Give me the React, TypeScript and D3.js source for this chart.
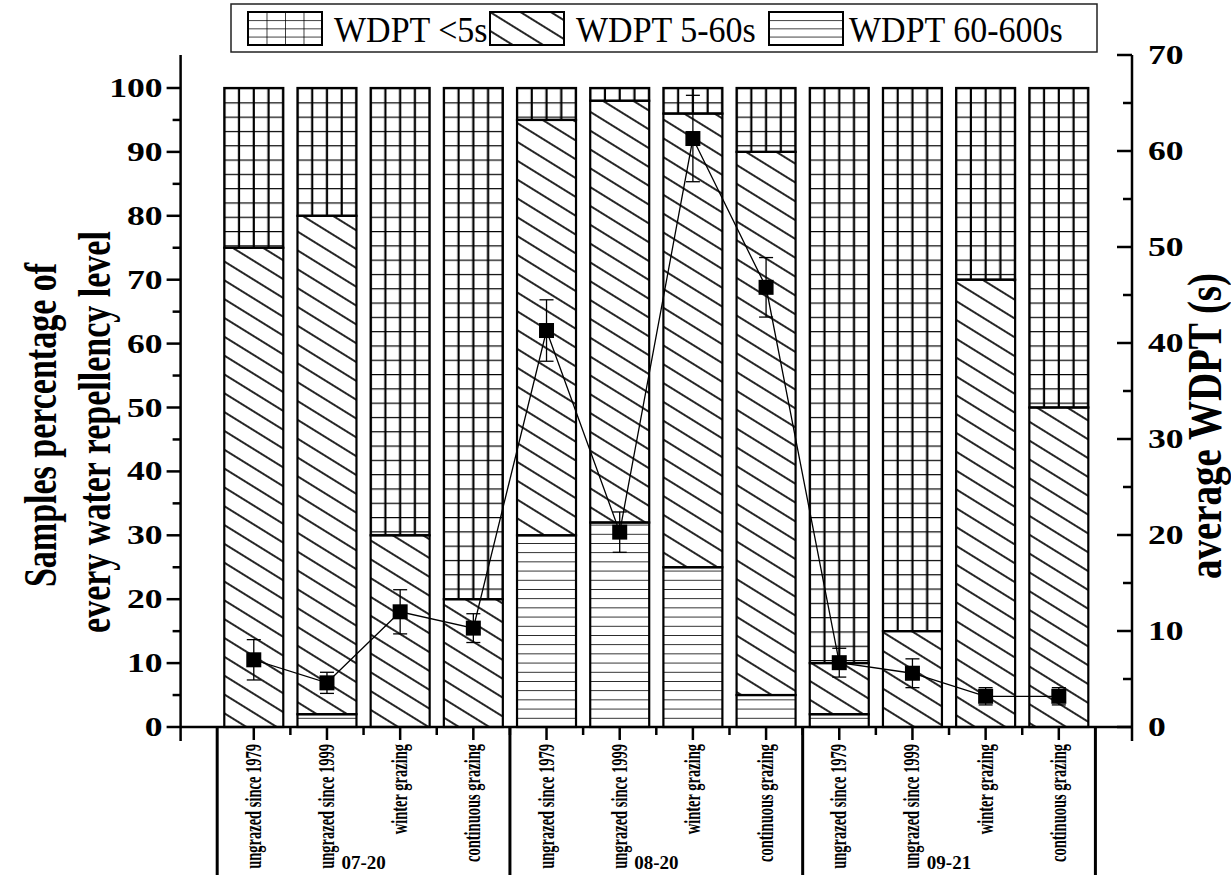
import React from 'react';
import * as d3 from 'd3';

// values
const groups = ['07-20', '08-20', '09-21'];
const treatments = ['ungrazed since 1979', 'ungrazed since 1999', 'winter grazing', 'continuous grazing'];
const categories = groups.flatMap(() => treatments);

// stacked percentages, bottom to top
const pct60to600 = [0, 2, 0, 0, 30, 32, 25, 5, 2, 0, 0, 0];
const pct5to60 = [75, 78, 30, 20, 65, 66, 71, 85, 8, 15, 70, 50];
const pctBelow5 = [25, 20, 70, 80, 5, 2, 4, 10, 90, 85, 30, 50];

// average WDPT (s) with error bars, right axis
const meanWdpt = [7.0, 4.6, 12.0, 10.3, 41.3, 20.3, 61.3, 45.8, 6.7, 5.6, 3.2, 3.2];
const errWdpt = [2.1, 1.1, 2.3, 1.5, 3.2, 2.1, 4.5, 3.1, 1.5, 1.5, 0.9, 0.9];

const leftTicks = d3.range(0, 101, 10);
const rightTicks = d3.range(0, 71, 10);
const legendLabels = ['WDPT <5s', 'WDPT 5-60s', 'WDPT 60-600s'];

const W = 1231;
const H = 875;
const FONT = '"Liberation Serif", "DejaVu Serif", serif';
const SX = 1.36; // the figure is stretched sideways

const x = d3.scaleLinear().domain([-1, 12]).range([180.6, 1132]);
const step = x(1) - x(0);
const barW = 59;
const yL = d3.scaleLinear().domain([0, 100]).range([727, 88]);
const yR = d3.scaleLinear().domain([0, 70]).range([727, 55]);
const x0 = x(-1), x1 = x(12), y0 = yL(0);

export default function App() {
  const stacks = categories.map((c, i) => {
    const a = pct60to600[i], b = pct5to60[i], t = pctBelow5[i];
    return [
      { key: 'h', lo: 0, hi: a },
      { key: 'd', lo: a, hi: a + b },
      { key: 'g', lo: a + b, hi: a + b + t },
    ].filter(s => s.hi > s.lo);
  });

  const line = d3.line<number>()
    .x((_, i) => x(i))
    .y(v => yR(v));

  const legendItems = [
    { key: 'g', sx: 248, tx: 334 },
    { key: 'd', sx: 490, tx: 576 },
    { key: 'h', sx: 769, tx: 849 },
  ];

  return (
    <svg width={W} height={H} style={{ position: 'absolute', left: 0, top: 0, background: '#fff' }}>
      <defs>
        <pattern id="pat-g" patternUnits="userSpaceOnUse" x={x(0) - barW / 2} y={yL(100)}
          width={step} height={14.3}>
          <line x1={0} x2={step} y1={0} y2={0} stroke="#000" strokeWidth={2.2} />
          {d3.range(0, 5).map(k => (
            <line key={k} x1={k * barW / 4} x2={k * barW / 4} y1={0} y2={14.3} stroke="#000" strokeWidth={2.2} />
          ))}
        </pattern>
        <pattern id="pat-d" patternUnits="userSpaceOnUse" width={20} height={16}
          patternTransform="rotate(31.8)">
          <line x1={0} x2={20} y1={8} y2={8} stroke="#000" strokeWidth={1.7} />
        </pattern>
        <pattern id="pat-h" patternUnits="userSpaceOnUse" width={20} height={9.2} y={y0}>
          <line x1={0} x2={20} y1={0} y2={0} stroke="#000" strokeWidth={1.6} />
        </pattern>
        <pattern id="leg-g" patternUnits="userSpaceOnUse" x={248} y={12} width={18.5} height={8.2}>
          <line x1={0} x2={18.5} y1={0} y2={0} stroke="#000" strokeWidth={1.5} />
          <line x1={0} x2={0} y1={0} y2={8.2} stroke="#000" strokeWidth={1.5} />
        </pattern>
        <pattern id="leg-h" patternUnits="userSpaceOnUse" y={12} width={20} height={8.2}>
          <line x1={0} x2={20} y1={0} y2={0} stroke="#000" strokeWidth={1.5} />
        </pattern>
      </defs>

      {/* stacked bars */}
      {stacks.map((segs, i) => (
        <g key={i}>
          {segs.map(s => (
            <rect key={s.key} x={x(i) - barW / 2} y={yL(s.hi)} width={barW} height={yL(s.lo) - yL(s.hi)}
              fill={`url(#pat-${s.key})`} stroke="#000" strokeWidth={2.2} />
          ))}
        </g>
      ))}

      {/* axes */}
      <g stroke="#000" strokeWidth={2.5} fill="none">
        <line x1={x0} x2={x0} y1={55} y2={741} />
        <line x1={x1} x2={x1} y1={55} y2={741} />
        <line x1={x0} x2={x1} y1={y0} y2={y0} />
        {d3.range(0, 101, 5).map(v => (
          <line key={'l' + v} x1={x0} x2={x0 - (v % 10 === 0 ? 14 : 8)} y1={yL(v)} y2={yL(v)} />
        ))}
        {d3.range(0, 71, 5).map(v => (
          <line key={'r' + v} x1={x1} x2={x1 - (v % 10 === 0 ? 15 : 9)} y1={yR(v)} y2={yR(v)} />
        ))}
        {categories.map((c, i) => (
          <line key={'b' + i} x1={x(i)} x2={x(i)} y1={y0} y2={y0 + 13} />
        ))}
        {d3.range(0, 11).map(i => (
          <line key={'m' + i} x1={x(i + 0.5)} x2={x(i + 0.5)} y1={y0} y2={y0 + 8} />
        ))}
        {d3.range(0, 4).map(k => (
          <line key={'s' + k} x1={x(k * 4 - 0.5)} x2={x(k * 4 - 0.5)} y1={y0} y2={H} strokeWidth={3} />
        ))}
      </g>

      {/* tick labels */}
      <g fontFamily={FONT} fontWeight="bold" fontSize={27} fill="#000">
        {leftTicks.map(v => (
          <text key={v} transform={`translate(${x0 - 18},${yL(v) + 9}) scale(${SX - 0.04},1)`} textAnchor="end">{v}</text>
        ))}
        {rightTicks.map(v => (
          <text key={v} transform={`translate(${x1 + 16},${yR(v) + 9}) scale(${SX - 0.04},1)`}>{v}</text>
        ))}
      </g>

      {/* axis titles */}
      <g fontFamily={FONT} fontWeight="bold" fill="#000" textAnchor="middle">
        <text fontSize={34} transform={`translate(56,425) rotate(-90) scale(1,${SX})`}>Samples percentage of</text>
        <text fontSize={34} transform={`translate(110,432) rotate(-90) scale(1,${SX})`}>every water repellency level</text>
        <text fontSize={39} transform={`translate(1221,426) rotate(-90) scale(1,1.25)`}>average WDPT (s)</text>
      </g>

      {/* category and group labels */}
      <g fontFamily={FONT} fontWeight="bold" fontSize={14.5} fill="#000">
        {categories.map((c, i) => (
          <text key={i} transform={`translate(${x(i) + 7},744) rotate(-90) scale(1,1.55)`} textAnchor="end">{c}</text>
        ))}
      </g>
      <g fontFamily={FONT} fontWeight="bold" fontSize={19} fill="#000" textAnchor="middle">
        {groups.map((g, k) => (
          <text key={g} x={x(k * 4 + 1.5)} y={869}>{g}</text>
        ))}
      </g>

      {/* average WDPT line */}
      <path d={line(meanWdpt) ?? ''} fill="none" stroke="#000" strokeWidth={1.3} />
      <g stroke="#000" strokeWidth={1.3}>
        {meanWdpt.map((v, i) => (
          <g key={i}>
            <line x1={x(i)} x2={x(i)} y1={yR(v - errWdpt[i])} y2={yR(v + errWdpt[i])} />
            <line x1={x(i) - 7} x2={x(i) + 7} y1={yR(v + errWdpt[i])} y2={yR(v + errWdpt[i])} />
            <line x1={x(i) - 7} x2={x(i) + 7} y1={yR(v - errWdpt[i])} y2={yR(v - errWdpt[i])} />
            <rect x={x(i) - 7.5} y={yR(v) - 7.5} width={15} height={15} fill="#000" stroke="none" />
          </g>
        ))}
      </g>

      {/* legend */}
      <g>
        <rect x={231} y={4} width={866} height={48} fill="#fff" stroke="#222" strokeWidth={1.5} />
        {legendItems.map((it, k) => (
          <g key={it.key}>
            <rect x={it.sx} y={12} width={74} height={33}
              fill={it.key === 'd' ? 'url(#pat-d)' : `url(#leg-${it.key})`} stroke="#000" strokeWidth={2} />
            <text transform={`translate(${it.tx},42) scale(1,1.08)`} fontFamily={FONT} fontSize={34} fill="#000">{legendLabels[k]}</text>
          </g>
        ))}
      </g>
    </svg>
  );
}
